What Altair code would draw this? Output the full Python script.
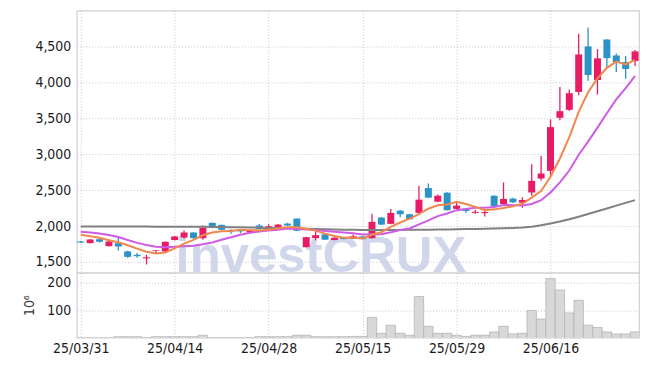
import altair as alt
import pandas as pd

# ---------------- data ----------------
opens = [1785, 1762, 1817, 1720, 1760, 1647, 1600, 1550, 1652, 1647,
         1805, 1840, 1910, 1831, 2044, 2016, 1947, 1940, 1914, 2007,
         1965, 1980, 2034, 2104, 1706, 1831, 1883, 1805, 1840, 1823,
         1855, 1831, 2118, 2030, 2215, 2164, 2183, 2529, 2339, 2464,
         2238, 2242, 2183, 2180, 2422, 2307, 2382, 2325, 2467, 2661,
         2768, 3507, 3618, 3867, 4500, 4033, 4597, 4375, 4283, 4297]
highs = [1790, 1818, 1825, 1790, 1850, 1655, 1625, 1600, 1668, 1785,
         1860, 1937, 1915, 2007, 2048, 2020, 1950, 1945, 1950, 2030,
         2025, 2030, 2045, 2106, 1850, 1942, 1888, 1864, 1845, 1882,
         1860, 2170, 2125, 2238, 2220, 2170, 2560, 2593, 2440, 2470,
         2321, 2248, 2225, 2232, 2428, 2607, 2395, 2400, 2860, 2975,
         3484, 3936, 3900, 4676, 4763, 4463, 4600, 4403, 4366, 4450]
lows = [1765, 1758, 1770, 1715, 1660, 1560, 1560, 1465, 1625, 1630,
        1800, 1825, 1825, 1809, 1970, 1945, 1892, 1900, 1910, 1950,
        1950, 1975, 2005, 1930, 1700, 1800, 1805, 1800, 1815, 1818,
        1812, 1825, 2015, 2025, 2122, 2090, 2170, 2390, 2330, 2215,
        2230, 2183, 2170, 2131, 2270, 2300, 2320, 2255, 2420, 2630,
        2698, 3474, 3600, 3821, 4024, 3830, 4210, 4144, 4052, 4227]
closes = [1770, 1813, 1781, 1785, 1715, 1570, 1580, 1565, 1662, 1781,
          1855, 1910, 1832, 1975, 1975, 1947, 1925, 1925, 1942, 1956,
          1997, 2020, 2007, 1935, 1845, 1873, 1810, 1836, 1818, 1858,
          1818, 2058, 2020, 2183, 2164, 2095, 2367, 2395, 2422, 2220,
          2284, 2210, 2197, 2195, 2275, 2377, 2330, 2363, 2629, 2731,
          3377, 3599, 3849, 4389, 4103, 4334, 4338, 4283, 4186, 4431]
volumes = [2, 2, 2, 2, 7, 7, 7, 3, 7, 7,
           7, 7, 7, 12, 3, 3, 3, 3, 3, 7,
           7, 7, 7, 12, 12, 7, 7, 7, 7, 8,
           8, 76, 19, 48, 19, 12, 151, 44, 19, 19,
           12, 8, 12, 12, 24, 44, 17, 19, 101, 70,
           215, 174, 92, 137, 48, 40, 24, 17, 17, 24]
ma5 = [1878, 1859, 1836, 1803, 1773, 1733, 1686, 1643, 1618, 1632,
       1689, 1755, 1808, 1871, 1909, 1928, 1931, 1949, 1943, 1939,
       1949, 1968, 1984, 1983, 1961, 1936, 1894, 1860, 1836, 1839,
       1828, 1878, 1914, 1987, 2049, 2104, 2166, 2241, 2289, 2300,
       2338, 2306, 2267, 2221, 2232, 2251, 2275, 2308, 2395, 2486,
       2686, 2940, 3237, 3589, 3863, 4055, 4203, 4289, 4249, 4314]
ma10 = [1922, 1910, 1895, 1875, 1848, 1805, 1765, 1735, 1712, 1705,
        1711, 1720, 1726, 1745, 1771, 1808, 1843, 1879, 1907, 1924,
        1938, 1949, 1967, 1963, 1950, 1943, 1931, 1922, 1910, 1900,
        1882, 1886, 1887, 1912, 1944, 1966, 2022, 2078, 2138, 2174,
        2221, 2236, 2254, 2255, 2266, 2294, 2291, 2287, 2308, 2359,
        2468, 2607, 2773, 2992, 3175, 3370, 3571, 3763, 3919, 4089]
ma60 = [1995, 1995, 1994, 1994, 1993, 1993, 1992, 1992, 1991, 1991,
        1990, 1990, 1989, 1989, 1988, 1986, 1984, 1982, 1980, 1977,
        1974, 1971, 1968, 1965, 1961, 1958, 1955, 1952, 1949, 1947,
        1946, 1945, 1945, 1945, 1946, 1947, 1948, 1949, 1951, 1953,
        1955, 1957, 1959, 1962, 1965, 1968, 1973, 1980, 1990, 2010,
        2036, 2063, 2094, 2130, 2168, 2206, 2245, 2284, 2322, 2361]
tick_idx = [0, 10, 20, 30, 40, 50]
tick_labels = ["25/03/31", "25/04/14", "25/04/28", "25/05/15", "25/05/29", "25/06/16"]
price_ticks = [1500, 2000, 2500, 3000, 3500, 4000, 4500]
vol_ticks = [100, 200]

df = pd.DataFrame({
    "i": list(range(len(opens))),
    "open": opens, "high": highs, "low": lows, "close": closes,
    "volume": volumes, "ma5": ma5, "ma10": ma10, "ma60": ma60,
})
df["dir"] = ["up" if c >= o else "down" for o, c in zip(opens, closes)]

FONT = "DejaVu Sans Condensed, Roboto, sans-serif"
PINK = "#e81c66"
BLUE = "#2b93c6"
GRID = "#c3c6d8"

label_expr = "[" + ",".join("'%s'" % t for t in tick_labels) + "][round(datum.value/10)]"
xscale = alt.Scale(domain=[-0.42, 59.42], nice=False, zero=False, padding=0)

x_top = alt.X("i:Q", scale=xscale,
              axis=alt.Axis(values=tick_idx, labels=False, ticks=False, domain=False,
                            title=None, grid=True, gridColor=GRID, gridDash=[1, 2],
                            minExtent=0, maxExtent=0))
x_bot = alt.X("i:Q", scale=xscale,
              axis=alt.Axis(values=tick_idx, labelExpr=label_expr, ticks=False, domain=False,
                            title=None, grid=True, gridColor=GRID, gridDash=[1, 2],
                            labelFont=FONT, labelFontSize=14, labelColor="#1a1a1a",
                            labelPadding=4, labelFlush=False))

pscale = alt.Scale(domain=[1350, 5000], nice=False, zero=False)
paxis = alt.Axis(values=price_ticks, format=",.0f", ticks=False, domain=False, title=None,
                 grid=True, gridColor=GRID, gridDash=[1, 2],
                 labelFont=FONT, labelFontSize=14, labelColor="#1a1a1a",
                 labelPadding=6, minExtent=38, maxExtent=38)
color = alt.Color("dir:N", scale=alt.Scale(domain=["up", "down"], range=[PINK, BLUE]),
                  legend=None)

base = alt.Chart(df)

watermark = alt.Chart(pd.DataFrame({"t": ["investCRUX"]})).mark_text(
    font="Liberation Sans, Arial, sans-serif", fontWeight="bold", fontSize=51,
    color="#cdd3e8", opacity=0.9, align="center", baseline="alphabetic"
).encode(x=alt.value(245), y=alt.value(262), text="t:N")

wick = base.mark_rule(strokeWidth=1.3).encode(
    x=x_top, y=alt.Y("low:Q", scale=pscale, axis=paxis), y2="high:Q", color=color)
body = base.mark_bar(size=7).encode(
    x=x_top, y=alt.Y("open:Q", scale=pscale, axis=paxis), y2="close:Q", color=color)
l60 = base.mark_line(color="#808080", strokeWidth=2).encode(
    x=x_top, y=alt.Y("ma60:Q", scale=pscale, axis=paxis))
l10 = base.mark_line(color="#cf5ce6", strokeWidth=2).encode(
    x=x_top, y=alt.Y("ma10:Q", scale=pscale, axis=paxis))
l5 = base.mark_line(color="#f0884e", strokeWidth=2).encode(
    x=x_top, y=alt.Y("ma5:Q", scale=pscale, axis=paxis))

price = alt.layer(watermark, wick, body, l60, l10, l5).properties(width=564, height=263)

vscale = alt.Scale(domain=[4, 236], nice=False, zero=False)
vaxis = alt.Axis(values=vol_ticks, ticks=False, domain=False, title="10⁶",
                 titleFont=FONT, titleFontSize=14, titleFontWeight="normal",
                 titleColor="#333333", titlePadding=2,
                 grid=True, gridColor=GRID, gridDash=[1, 2],
                 labelFont=FONT, labelFontSize=14, labelColor="#1a1a1a",
                 labelPadding=6, minExtent=38, maxExtent=38)
vol = base.mark_bar(size=9.4, color="#d8d8d8", stroke="#b5b5b5", strokeWidth=0.8,
                    clip=True).encode(
    x=x_bot, y=alt.Y("volume:Q", scale=vscale, axis=vaxis))
volume = vol.properties(width=564, height=65)

chart = alt.vconcat(price, volume, spacing=0, bounds="flush").properties(
    padding={"left": 14, "top": 1, "right": 2, "bottom": 2},
    background="white"
).configure_view(stroke="#cfcfcf", strokeWidth=1.2)

chart.save("out.html", embed_options={"renderer": "svg", "actions": False})
